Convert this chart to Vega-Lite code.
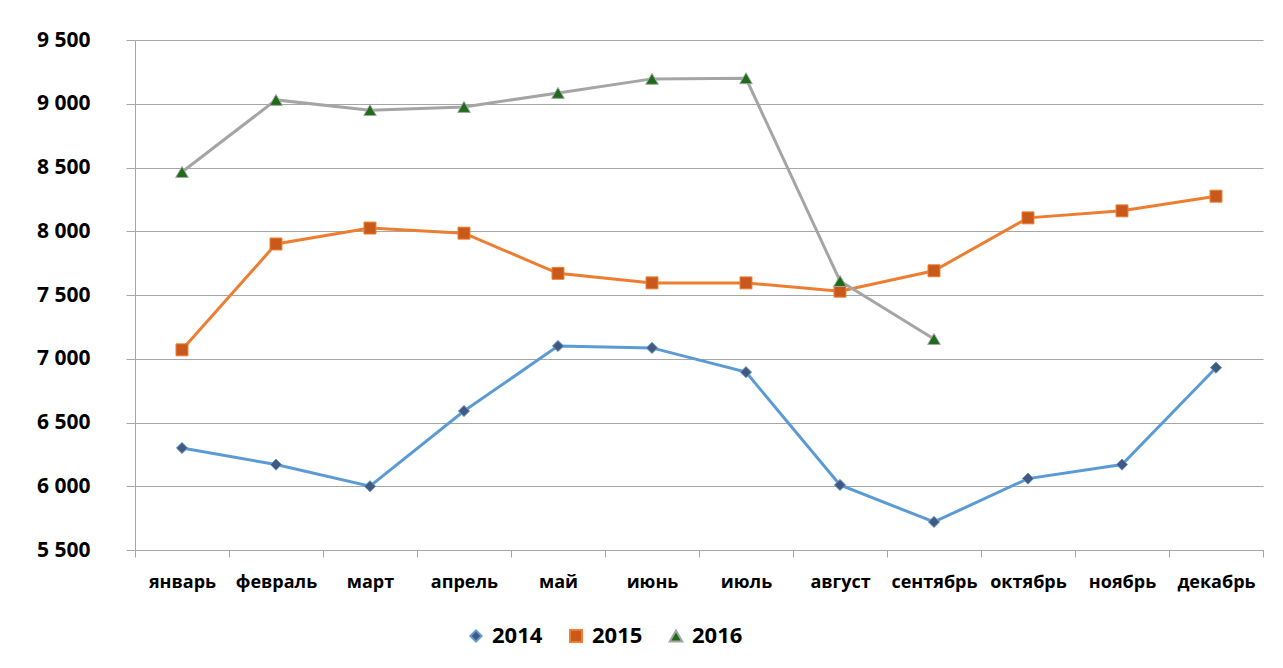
{
  "$schema": "https://vega.github.io/schema/vega-lite/v6.json",
  "width": 1128,
  "height": 510,
  "autosize": {"type": "none"},
  "padding": {"left": 135, "top": 40, "right": 20, "bottom": 118},
  "background": "white",
  "config": {
    "view": {"stroke": null},
    "font": "Open Sans",
    "legend": {"padding": 0}
  },
  "data": {
    "values": [
      {"month": "январь", "year": "2014", "value": 6300},
      {"month": "февраль", "year": "2014", "value": 6170},
      {"month": "март", "year": "2014", "value": 6000},
      {"month": "апрель", "year": "2014", "value": 6590},
      {"month": "май", "year": "2014", "value": 7100},
      {"month": "июнь", "year": "2014", "value": 7085},
      {"month": "июль", "year": "2014", "value": 6895},
      {"month": "август", "year": "2014", "value": 6010},
      {"month": "сентябрь", "year": "2014", "value": 5720},
      {"month": "октябрь", "year": "2014", "value": 6060},
      {"month": "ноябрь", "year": "2014", "value": 6170},
      {"month": "декабрь", "year": "2014", "value": 6930},
      {"month": "январь", "year": "2015", "value": 7070},
      {"month": "февраль", "year": "2015", "value": 7900},
      {"month": "март", "year": "2015", "value": 8025},
      {"month": "апрель", "year": "2015", "value": 7985},
      {"month": "май", "year": "2015", "value": 7670},
      {"month": "июнь", "year": "2015", "value": 7595},
      {"month": "июль", "year": "2015", "value": 7595},
      {"month": "август", "year": "2015", "value": 7530},
      {"month": "сентябрь", "year": "2015", "value": 7690},
      {"month": "октябрь", "year": "2015", "value": 8105},
      {"month": "ноябрь", "year": "2015", "value": 8160},
      {"month": "декабрь", "year": "2015", "value": 8275},
      {"month": "январь", "year": "2016", "value": 8465},
      {"month": "февраль", "year": "2016", "value": 9030},
      {"month": "март", "year": "2016", "value": 8950},
      {"month": "апрель", "year": "2016", "value": 8975},
      {"month": "май", "year": "2016", "value": 9085},
      {"month": "июнь", "year": "2016", "value": 9195},
      {"month": "июль", "year": "2016", "value": 9200},
      {"month": "август", "year": "2016", "value": 7610},
      {"month": "сентябрь", "year": "2016", "value": 7155}
    ]
  },
  "encoding": {
    "x": {
      "field": "month",
      "type": "nominal",
      "sort": null,
      "scale": {"type": "band", "paddingInner": 0, "paddingOuter": 0},
      "axis": {
        "title": null,
        "labelAngle": 0,
        "labelFont": "Open Sans",
        "labelFontWeight": "bold",
        "labelFontSize": 18,
        "labelColor": "#000000",
        "labelPadding": 16,
        "tickBand": "extent",
        "tickSize": 7,
        "tickColor": "#A6A6A6",
        "domainColor": "#A6A6A6",
        "grid": false
      }
    },
    "y": {
      "field": "value",
      "type": "quantitative",
      "scale": {"domain": [5500, 9500], "nice": false, "zero": false},
      "axis": {
        "title": null,
        "values": [5500, 6000, 6500, 7000, 7500, 8000, 8500, 9000, 9500],
        "labelExpr": "replace(format(datum.value, ','), ',', ' ')",
        "labelFont": "Open Sans",
        "labelFontWeight": "bold",
        "labelFontSize": 21,
        "labelColor": "#000000",
        "labelPadding": 36,
        "tickSize": 9,
        "tickColor": "#A6A6A6",
        "domainColor": "#A6A6A6",
        "gridColor": "#A6A6A6",
        "gridWidth": 1
      }
    }
  },
  "layer": [
    {
      "mark": {"type": "line", "strokeWidth": 3},
      "encoding": {
        "color": {
          "field": "year",
          "type": "nominal",
          "scale": {"domain": ["2014", "2015", "2016"], "range": ["#5B9BD5", "#ED7D31", "#A5A5A5"]},
          "legend": {
            "title": null,
            "orient": "none",
            "direction": "horizontal",
            "legendX": 330,
            "legendY": 585,
            "symbolSize": 2704,
            "symbolStrokeWidth": 2,
            "labelOffset": 5,
            "labelFont": "Open Sans",
            "labelFontWeight": "bold",
            "labelFontSize": 22,
            "labelColor": "#000000",
            "columnPadding": 22,
            "encode": {
              "symbols": {
                "update": {
                  "shape": {"signal": "datum.value === '2014' ? 'M-1,0L-0.23,0L0,-0.25L0.23,0L0,0.25L-0.23,0L0.23,0L1,0' : datum.value === '2015' ? 'M-1,0L-0.25,0L-0.25,-0.25L0.25,-0.25L0.25,0.25L-0.25,0.25L-0.25,0L0.25,0L1,0' : 'M-1,0L-0.136,0L0,-0.24L0.26,0.22L-0.26,0.22L-0.136,0L0.136,0L1,0'"},
                  "fill": {"signal": "datum.value === '2014' ? '#44587F' : datum.value === '2015' ? '#C9591A' : '#1E6B1A'"},
                  "stroke": {"signal": "datum.value === '2014' ? '#5B9BD5' : datum.value === '2015' ? '#ED7D31' : '#A5A5A5'"},
                  "fillOpacity": {"value": 1},
                  "strokeOpacity": {"value": 1},
                  "opacity": {"value": 1},
                  "size": {"value": 2704},
                  "strokeWidth": {"value": 2}
                }
              }
            }
          }
        }
      }
    },
    {
      "mark": {"type": "point", "filled": true, "strokeWidth": 1, "opacity": 1},
      "encoding": {
        "stroke": {
          "field": "year",
          "type": "nominal",
          "scale": {"domain": ["2014", "2015", "2016"], "range": ["#5B9BD5", "#ED7D31", "#A5A5A5"]},
          "legend": null
        },
        "fill": {
          "field": "year",
          "type": "nominal",
          "scale": {"domain": ["2014", "2015", "2016"], "range": ["#44587F", "#C9591A", "#1E6B1A"]},
          "legend": null
        },
        "shape": {
          "field": "year",
          "type": "nominal",
          "scale": {"domain": ["2014", "2015", "2016"], "range": ["diamond", "square", "triangle-up"]},
          "legend": null
        },
        "size": {
          "field": "year",
          "type": "nominal",
          "scale": {"domain": ["2014", "2015", "2016"], "range": [125, 160, 180]},
          "legend": null
        }
      }
    }
  ]
}
